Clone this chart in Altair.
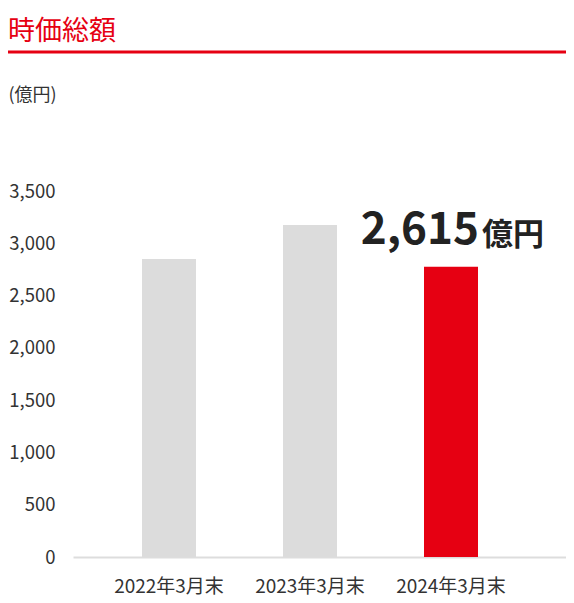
import altair as alt
import pandas as pd

# ---- data ----
periods = ["2022年3月末", "2023年3月末", "2024年3月末"]
values = [2850, 3175, 2775]
bar_colors = ["#dcdcdc", "#dcdcdc", "#e60012"]
y_ticks = [0, 500, 1000, 1500, 2000, 2500, 3000, 3500]
title_text = "時価総額"
unit_text = "(億円)"
callout_value = "2,615"
callout_unit = "億円"

FONT = "Noto Sans CJK JP"
RED = "#e60012"
TEXT = "#333333"

df = pd.DataFrame({"period": periods, "value": values, "color": bar_colors})

W, H = 493, 366
TOP = 183

x_scale = alt.Scale(domain=periods, paddingInner=0.617, paddingOuter=0.5567, align=0.4395)

bars = alt.Chart(df).mark_bar().encode(
    x=alt.X("period:N", scale=x_scale, sort=periods,
            axis=alt.Axis(title=None, labelAngle=0, ticks=False, domainColor="#dddddd",
                          domainWidth=2, labelFontSize=19, labelColor=TEXT,
                          labelPadding=20, labelFont=FONT)),
    y=alt.Y("value:Q", scale=alt.Scale(domain=[0, 3500], nice=False),
            axis=alt.Axis(values=y_ticks, format=",d", grid=False, domain=False, ticks=False,
                          labelFontSize=18.5, labelColor=TEXT, labelPadding=18, labelFont=FONT,
                          title=unit_text, titleAngle=0, titleAlign="left", titleBaseline="middle",
                          titleX=-65, titleY=-96, titleFontSize=18, titleFontWeight="normal",
                          titleColor=TEXT, titleFont=FONT)),
    color=alt.Color("color:N", scale=None),
)

one = pd.DataFrame({"k": [0]})

title_mark = alt.Chart(pd.DataFrame({"t": [title_text]})).mark_text(
    align="left", baseline="alphabetic", fontSize=27, color=RED, font=FONT
).encode(x=alt.value(-65), y=alt.value(32 - TOP), text="t:N")

red_rule = alt.Chart(one).mark_rule(color=RED, strokeWidth=3).encode(
    x=alt.value(-65), x2=alt.value(W), y=alt.value(-139)
)

callout_num = alt.Chart(pd.DataFrame({"t": [callout_value]})).mark_text(
    align="right", baseline="alphabetic", fontSize=44, fontWeight="bold", color="#222222", font=FONT
).encode(x=alt.value(406), y=alt.value(53), text="t:N")

callout_u = alt.Chart(pd.DataFrame({"t": [callout_unit]})).mark_text(
    align="left", baseline="alphabetic", fontSize=31, fontWeight="bold", color="#222222", font=FONT
).encode(x=alt.value(409), y=alt.value(54), text="t:N")

chart = alt.layer(bars, title_mark, red_rule, callout_num, callout_u).properties(
    width=W, height=H,
    autosize=alt.AutoSizeParams(type="none"),
    padding={"left": 65, "top": TOP, "right": 0, "bottom": 46},
).configure(font=FONT).configure_view(stroke=None)

chart.save("out.html", embed_options={"renderer": "svg", "actions": False})
